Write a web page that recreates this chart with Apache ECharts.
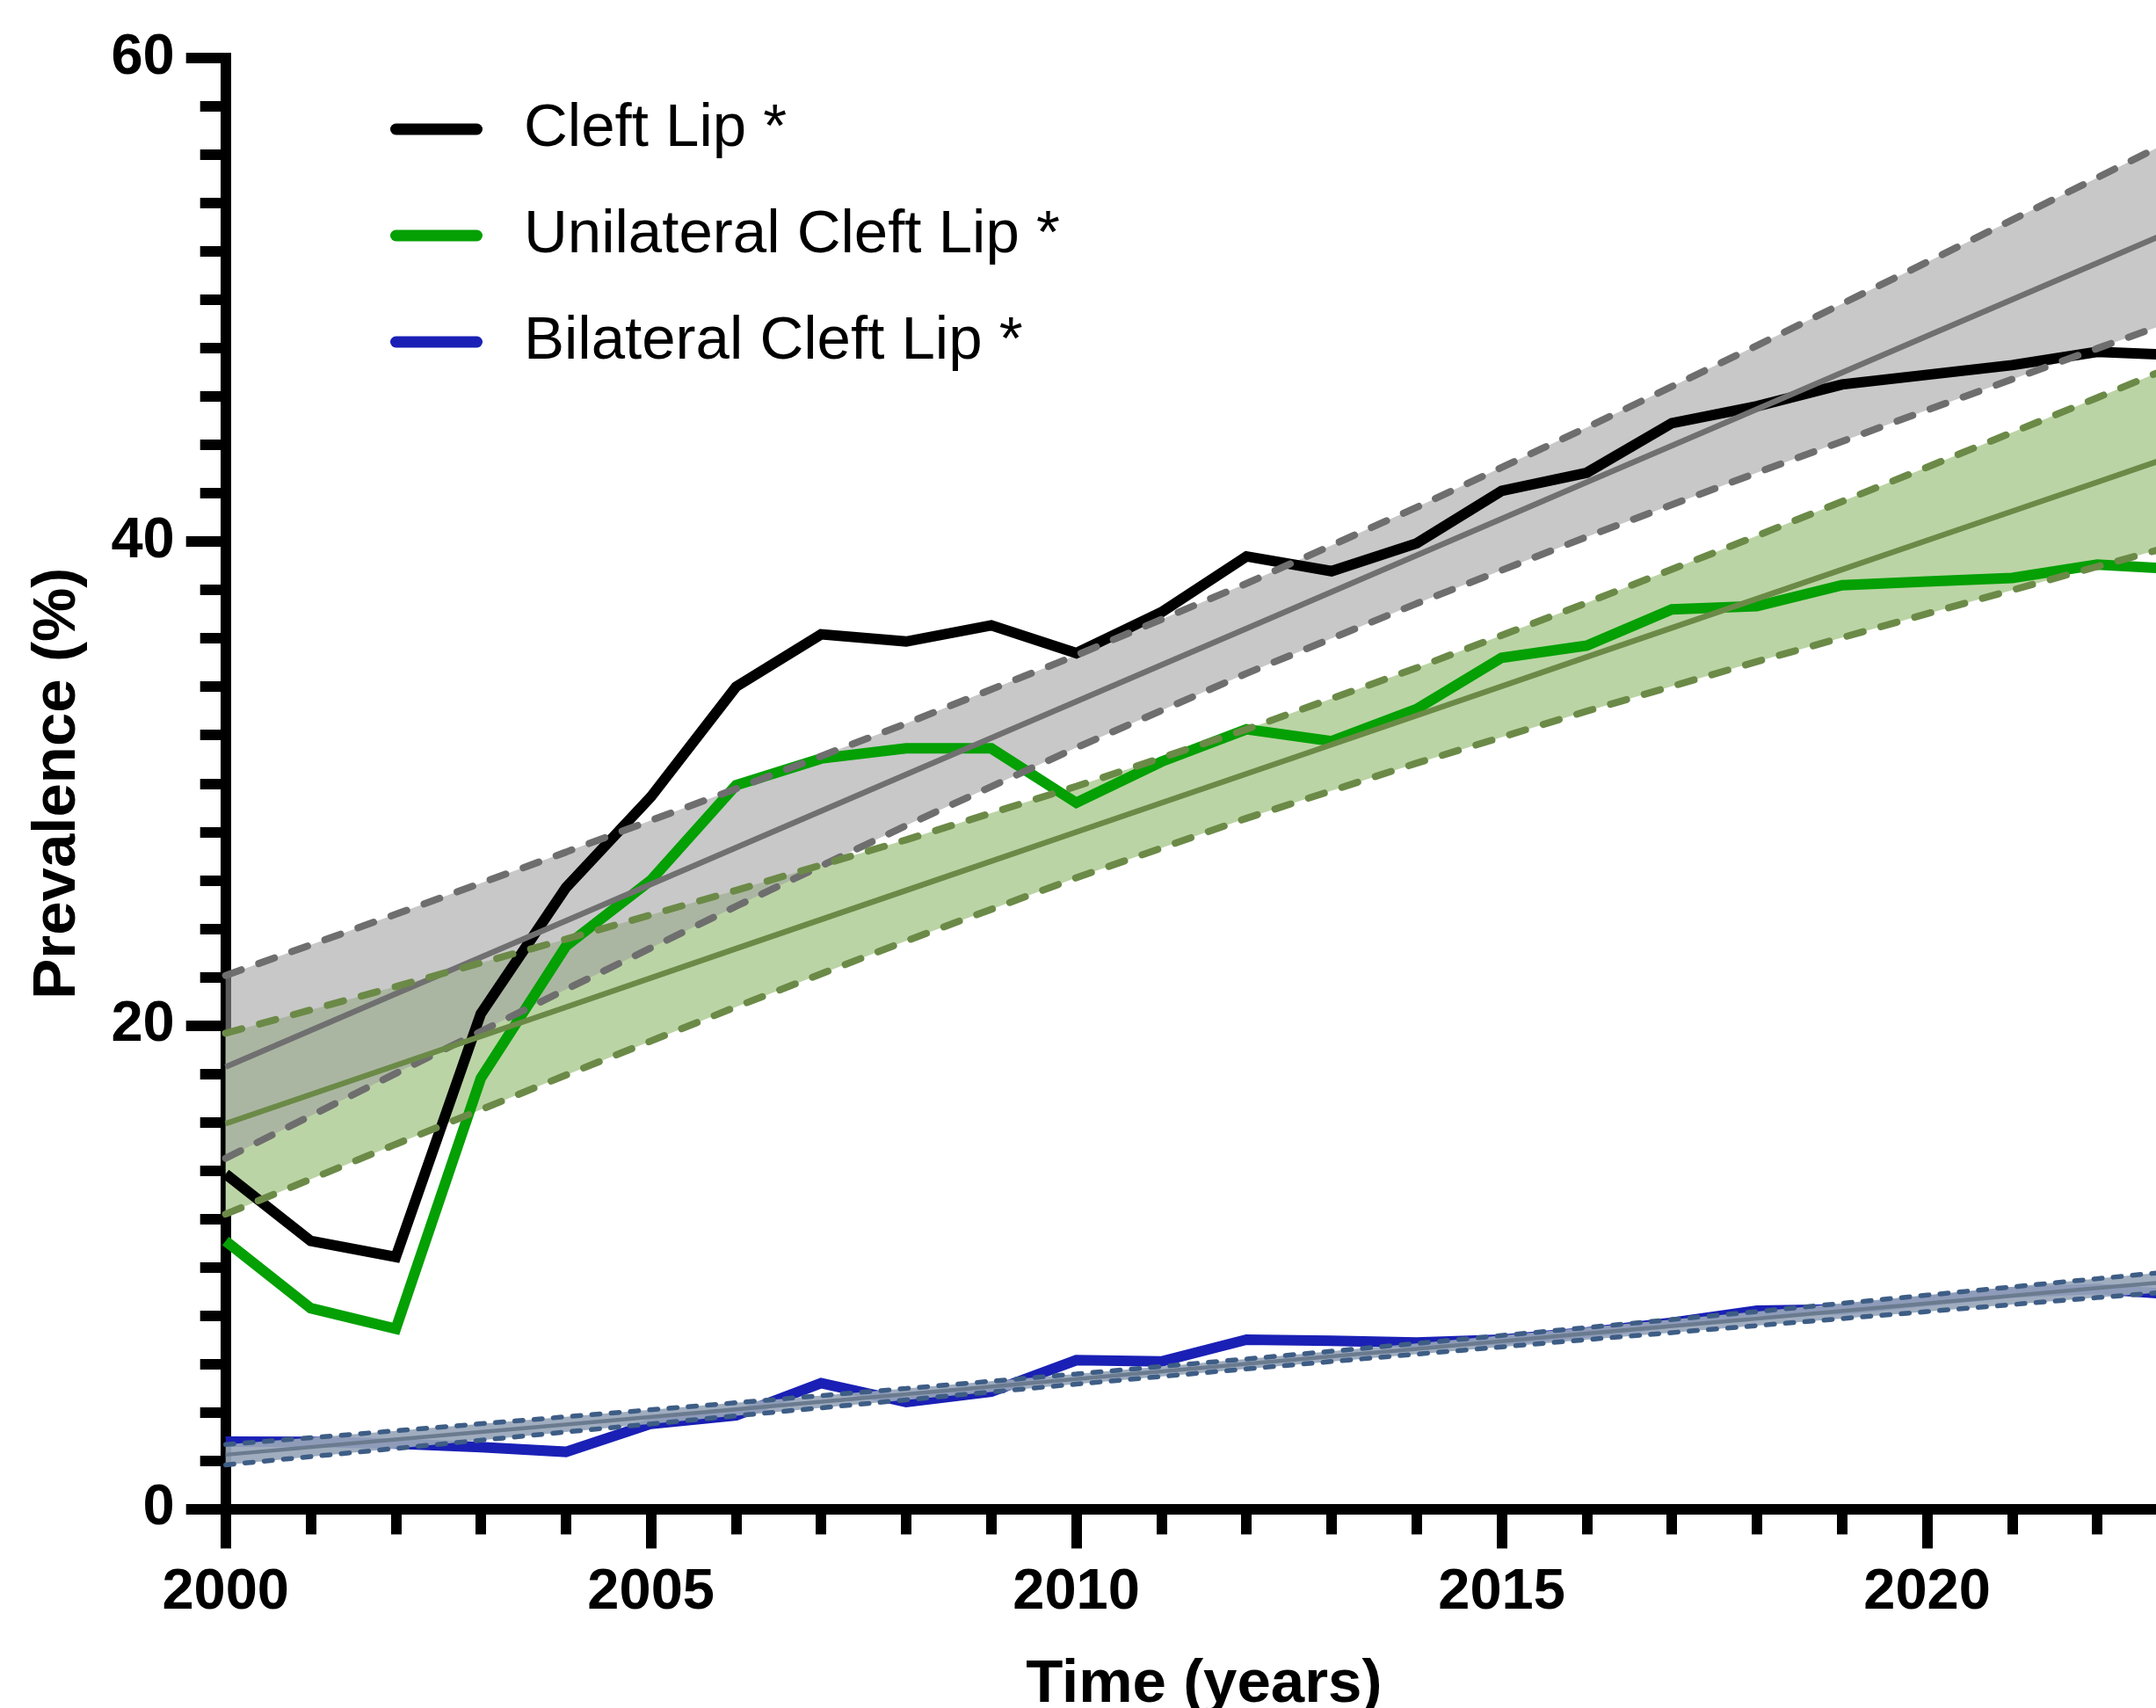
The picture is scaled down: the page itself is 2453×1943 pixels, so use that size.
<!DOCTYPE html>
<html><head><meta charset="utf-8">
<script src="https://cdn.jsdelivr.net/npm/echarts@6/dist/echarts.min.js"></script>
<style>html,body{margin:0;padding:0;background:#fff}#c{width:2453px;height:1943px}</style>
</head><body><div id="c"></div>
<script>
// ---------- data ----------
const years = [2000,2001,2002,2003,2004,2005,2006,2007,2008,2009,2010,2011,2012,2013,2014,2015,2016,2017,2018,2019,2020,2021,2022,2023];
const cleftLip   = [13.85,11.08,10.42,20.48,25.69,29.45,34.0,36.17,35.87,36.54,35.39,37.08,39.39,38.78,39.93,42.1,42.85,44.9,45.6,46.5,46.9,47.3,47.85,47.7];
const unilateral = [11.08,8.3,7.45,17.81,23.27,26.0,29.93,31.03,31.45,31.45,29.2,30.9,32.24,31.75,33.08,35.2,35.7,37.2,37.33,38.2,38.35,38.5,39.05,38.85];
const bilateral  = [2.78,2.77,2.70,2.55,2.36,3.52,3.87,5.2,4.42,4.85,6.15,6.1,7.0,6.95,6.88,7.0,7.3,7.7,8.2,8.25,8.6,8.95,9.1,8.85];

// regression lines and 95% bands
const fitYears = [2000,2002,2004,2006,2008,2010,2012,2014,2016,2018,2020,2022,2023];
const clFit   = [18.28,21.30,24.32,27.35,30.37,33.39,36.41,39.43,42.46,45.48,48.50,51.52,53.03];
const clUpper = [22.06,24.59,27.16,29.78,32.48,35.30,38.27,41.42,44.72,48.11,51.56,55.05,56.81];
const clLower = [14.50,18.01,21.48,24.92,28.26,31.48,34.55,37.44,40.20,42.85,45.44,47.99,49.25];
const uniFit   = [15.93,18.34,20.75,23.17,25.58,27.99,30.40,32.81,35.23,37.64,40.05,42.46,43.67];
const uniUpper = [19.67,21.60,23.56,25.58,27.67,29.88,32.24,34.78,37.47,40.24,43.08,45.95,47.41];
const uniLower = [12.19,15.08,17.94,20.76,23.49,26.10,28.56,30.84,32.99,35.04,37.02,38.97,39.93];
const biFit   = [2.24,2.87,3.49,4.12,4.74,5.37,6.00,6.62,7.25,7.87,8.50,9.13,9.44];
const biUpper = [2.66,3.23,3.81,4.39,4.98,5.58,6.20,6.84,7.50,8.16,8.84,9.52,9.86];
const biLower = [1.82,2.50,3.18,3.85,4.51,5.16,5.79,6.40,7.00,7.58,8.16,8.74,9.02];

const yTicks = [0,20,40,60];
const xTicks = [2000,2005,2010,2015,2020];
const xRange = [2000,2023];
const seriesNames = ['Cleft Lip *','Unilateral Cleft Lip *','Bilateral Cleft Lip *'];

// ---------- helpers ----------
const FONT = "'Liberation Sans', Arial, Helvetica, sans-serif";
const pairs = (xs, ys) => xs.map((x, i) => [x, ys[i]]);
const capsule = 'path://M6.5,0 L98.5,0 A6.5,6.5 0 0 1 98.5,13 L6.5,13 A6.5,6.5 0 0 1 6.5,0 Z';

function band(lower, upper, fill, z) {
  return {
    type:'custom', coordinateSystem:'cartesian2d', silent:true, clip:true, z,
    data:[[fitYears[0], upper[0]]], encode:{ x:0, y:1 },
    renderItem:(params, api) => {
      if (params.dataIndex !== 0) return null;
      const up = fitYears.map((x, i) => api.coord([x, upper[i]]));
      const lo = fitYears.map((x, i) => api.coord([x, lower[i]])).reverse();
      return { type:'polygon', shape:{ points: up.concat(lo) }, style:{ fill }, silent:true };
    }
  };
}
function fitLines(fit, upper, lower, meanColor, meanW, dashColor, dashW, dash) {
  const base = { type:'line', symbol:'none', silent:true, z:5 };
  return [
    Object.assign({}, base, { data:pairs(fitYears, fit), lineStyle:{color:meanColor, width:meanW} }),
    Object.assign({}, base, { data:pairs(fitYears, upper), lineStyle:{color:dashColor, width:dashW, type:dash, cap:'round'} }),
    Object.assign({}, base, { data:pairs(fitYears, lower), lineStyle:{color:dashColor, width:dashW, type:dash, cap:'round'} })
  ];
}
function dataLine(name, vals, color) {
  return { type:'line', name, data:pairs(years, vals), symbol:'none', color,
    itemStyle:{color}, lineStyle:{color, width:12, join:'miter', cap:'butt'}, z:3 };
}

const axisLineStyle = { color:'#000', width:12, cap:'square' };
const labelStyle = { color:'#000', fontSize:65, fontWeight:'bold', fontFamily:FONT };
const nameStyle = { color:'#000', fontSize:69, fontWeight:'bold', fontFamily:FONT };

const chart = echarts.init(document.getElementById('c'), null, { renderer:'canvas' });
chart.setOption({
  animation:false,
  backgroundColor:'#ffffff',
  grid:{ left:256.7, top:66, right:-29.9, bottom:226.5, containLabel:false, outerBoundsMode:'none' },
  legend:{
    show:true, orient:'vertical', left:439, top:107, itemGap:51,
    itemWidth:105, itemHeight:13, selectedMode:false,
    data:seriesNames.map(n => ({ name:n, icon:capsule })),
    textStyle:{ color:'#000', fontSize:69, fontFamily:FONT, lineHeight:70, padding:[0,0,0,42] }
  },
  xAxis:[
    { type:'value', position:'bottom', min:xRange[0], max:xRange[1], interval:xTicks[1]-xTicks[0],
      name:'Time (years)', nameLocation:'middle', nameGap:166, nameTextStyle:nameStyle, nameMoveOverlap:false,
      axisLine:{ show:true, onZero:false, lineStyle:axisLineStyle },
      axisTick:{ show:true, length:45, lineStyle:{ color:'#000', width:12 } },
      minorTick:{ show:false },
      axisLabel:{ show:true, margin:63, ...labelStyle,
        formatter: v => (xTicks.indexOf(v) >= 0 ? String(v) : '') },
      splitLine:{ show:false } },
    { type:'value', position:'bottom', min:xRange[0], max:xRange[1], interval:1,
      axisLine:{ show:false, onZero:false },
      axisTick:{ show:true, length:29, lineStyle:{ color:'#000', width:12 } },
      axisLabel:{ show:false }, splitLine:{ show:false } }
  ],
  yAxis:{ type:'value', min:yTicks[0], max:yTicks[yTicks.length-1], interval:yTicks[1]-yTicks[0],
    name:'Prevalence (%)', nameLocation:'middle', nameGap:156, nameTextStyle:nameStyle, nameMoveOverlap:false,
    axisLine:{ show:true, onZero:false, lineStyle:axisLineStyle },
    axisTick:{ show:true, length:45, lineStyle:{ color:'#000', width:12 } },
    minorTick:{ show:true, splitNumber:10, length:29, lineStyle:{ color:'#000', width:12 } },
    axisLabel:{ show:true, margin:58, ...labelStyle },
    splitLine:{ show:false }, minorSplitLine:{ show:false } },
  series:[
    band(uniLower, uniUpper, 'rgb(187,212,165)', 2),
    band(clLower, clUpper, 'rgba(160,160,160,0.58)', 2),
    dataLine(seriesNames[0], cleftLip, '#000000'),
    dataLine(seriesNames[1], unilateral, '#04a004'),
    dataLine(seriesNames[2], bilateral, '#1a20b5'),
    band(biLower, biUpper, 'rgba(152,166,186,0.92)', 4),
    ...fitLines(clFit, clUpper, clLower, '#707070', 6.5, '#6e6e6e', 8, [19,21]),
    ...fitLines(uniFit, uniUpper, uniLower, '#6b8a47', 6.5, '#6b8a47', 8, [19,21]),
    ...fitLines(biFit, biUpper, biLower, '#6b7b8f', 4.5, '#3e5d85', 5.5, [9.5,12.5])
  ]
});
</script>
</body></html>
